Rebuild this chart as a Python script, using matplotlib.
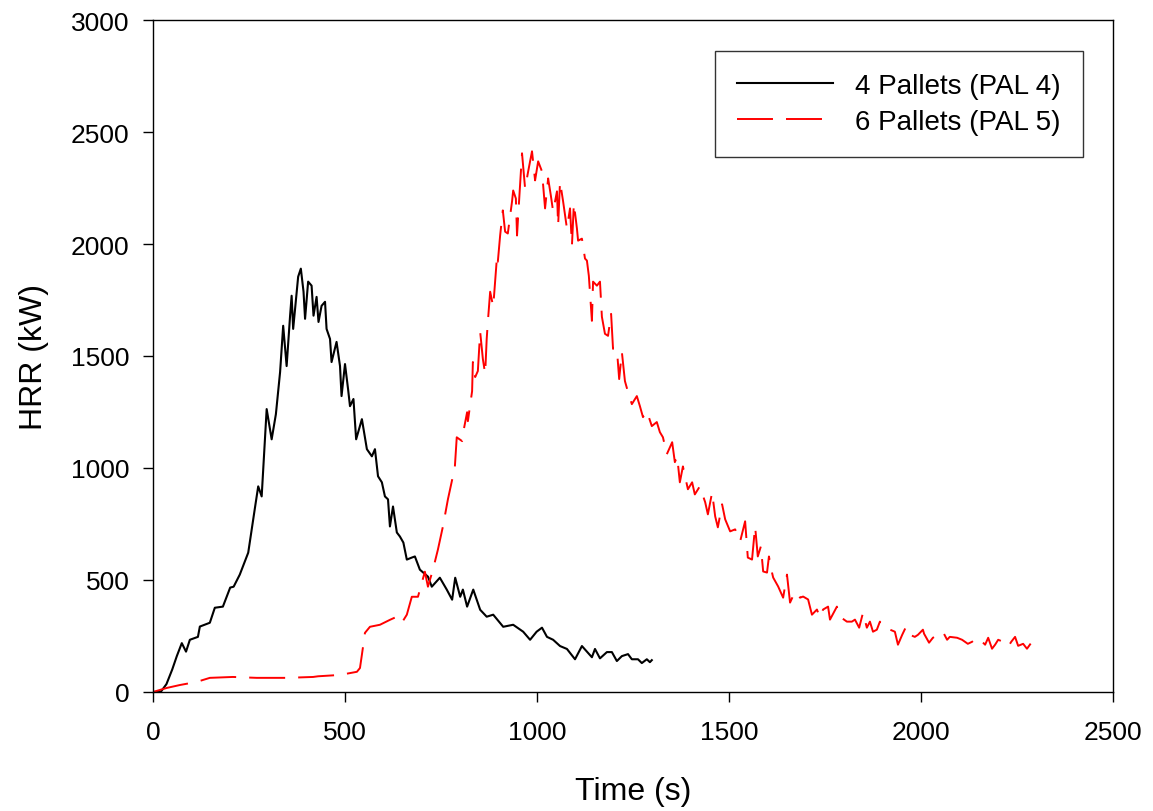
import matplotlib
matplotlib.use('Agg')
import matplotlib.pyplot as plt

plt.rcParams['font.family'] = ['Liberation Sans', 'DejaVu Sans']

# 4 pallets (PAL 4)
t_pal4 = [0, 20, 35, 50, 62, 75, 86, 96, 117, 122, 148, 161, 182, 201, 210, 226, 248, 257, 266, 274,
          283, 296, 309, 320, 331, 339, 348, 357, 361, 365, 378, 385, 392, 396, 404, 413, 418, 426, 431, 439,
          448, 452, 461, 465, 478, 487, 491, 500, 508, 513, 522, 529, 544, 557, 570, 578, 586, 596, 604, 612,
          617, 625, 635, 643, 652, 661, 674, 682, 695, 716, 726, 747, 765, 779, 787, 800, 807, 818, 834, 852,
          869, 886, 912, 938, 964, 982, 999, 1013, 1026, 1042, 1060, 1078, 1099, 1117, 1143, 1151, 1164, 1182,
          1195, 1208, 1221, 1237, 1247, 1263, 1273, 1286, 1294, 1299]
hrr_pal4 = [0, 0, 35, 100, 160, 218, 180, 233, 246, 292, 309, 376, 381, 466, 470, 524, 622, 725, 828, 918,
            873, 1263, 1128, 1240, 1429, 1635, 1455, 1680, 1769, 1621, 1854, 1890, 1787, 1666, 1832, 1814, 1680, 1764, 1652, 1724,
            1742, 1621, 1576, 1473, 1563, 1455, 1321, 1464, 1352, 1276, 1308, 1128, 1218, 1084, 1052, 1084, 963, 936, 873, 860,
            739, 828, 712, 694, 667, 591, 600, 605, 546, 515, 470, 510, 457, 412, 510, 425, 457, 381, 457, 367,
            336, 345, 291, 300, 269, 233, 269, 287, 246, 233, 205, 192, 146, 205, 155, 192, 150, 178,
            178, 138, 160, 169, 146, 146, 129, 146, 133, 142]

# 6 pallets (PAL 5)
t_pal5 = [0, 36, 70, 114, 148, 208, 270, 348, 417, 430, 487, 531, 539, 544, 552, 565, 591, 617, 635, 648,
          661, 674, 690, 700, 708, 716, 729, 742, 755, 768, 786, 791, 805, 807, 818, 820, 831, 833, 839, 846,
          852, 859, 865, 869, 872, 878, 886, 891, 896, 898, 904, 911, 917, 924, 935, 938, 945, 948, 951, 961,
          969, 977, 987, 995, 1003, 1013, 1021, 1029, 1036, 1042, 1052, 1055, 1060, 1068, 1078, 1086, 1091, 1096, 1104, 1107,
          1117, 1125, 1130, 1135, 1143, 1146, 1156, 1164, 1169, 1177, 1185, 1193, 1198, 1208, 1214, 1221, 1229, 1237, 1247, 1260,
          1268, 1276, 1286, 1299, 1312, 1320, 1328, 1338, 1352, 1359, 1365, 1372, 1380, 1393, 1404, 1411, 1424, 1438, 1445, 1456,
          1464, 1471, 1482, 1490, 1503, 1516, 1529, 1542, 1549, 1560, 1568, 1575, 1583, 1589, 1599, 1604, 1612, 1615, 1628, 1641,
          1651, 1659, 1672, 1685, 1693, 1706, 1716, 1729, 1737, 1745, 1758, 1763, 1781, 1789, 1807, 1820, 1828, 1839, 1849, 1859,
          1867, 1875, 1885, 1893, 1901, 1914, 1932, 1940, 1951, 1961, 1971, 1984, 1992, 2005, 2008, 2021, 2031, 2044, 2057, 2068,
          2075, 2094, 2107, 2122, 2133, 2146, 2154, 2167, 2175, 2185, 2193, 2201, 2214, 2227, 2235, 2245, 2253, 2266, 2276, 2289, 2300]
hrr_pal5 = [0, 18, 31, 45, 63, 67, 63, 63, 67, 70, 76, 90, 107, 166, 264, 291, 300, 322, 336, 309,
            345, 425, 425, 488, 537, 470, 546, 636, 739, 860, 1003, 1137, 1120, 1151, 1249, 1209, 1343, 1473, 1406, 1433,
            1608, 1487, 1420, 1576, 1652, 1787, 1720, 1836, 1948, 1921, 2038, 2150, 2055, 2047, 2190, 2239, 2203, 2038, 2127, 2405,
            2248, 2324, 2414, 2284, 2369, 2324, 2159, 2293, 2217, 2145, 2235, 2082, 2279, 2190, 2069, 2159, 1993, 2181, 2069, 2015,
            2024, 1935, 1926, 1858, 1657, 1832, 1814, 1832, 1675, 1599, 1590, 1688, 1532, 1532, 1397, 1518, 1388, 1339, 1285, 1321,
            1276, 1227, 1254, 1187, 1205, 1160, 1137, 1061, 1115, 1026, 1052, 936, 1007, 905, 936, 882, 918, 847, 793, 891,
            784, 735, 838, 771, 717, 726, 672, 762, 600, 591, 739, 605, 650, 538, 533, 605, 533, 511, 471, 421,
            524, 399, 448, 421, 426, 413, 345, 368, 332, 368, 381, 323, 381, 336, 314, 314, 323, 287, 354, 287,
            314, 269, 278, 314, 291, 282, 269, 211, 255, 291, 255, 246, 255, 278, 260, 220, 242, 255, 269, 233,
            246, 242, 233, 215, 224, 242, 233, 211, 242, 193, 211, 233, 224, 202, 224, 246, 206, 215, 193, 224, 211]

fig = plt.figure(figsize=(11.53, 8.12), dpi=100)
ax = fig.add_axes([0.1327, 0.1466, 0.8326, 0.8275])

ax.plot(t_pal4, hrr_pal4, color='black', linewidth=1.5, label='4 Pallets (PAL 4)')
ax.plot(t_pal5, hrr_pal5, color='red', linewidth=1.4, dashes=(18.5, 6.7), label='6 Pallets (PAL 5)')

ax.set_xlim(0, 2500)
ax.set_ylim(0, 3000)
ax.set_xticks([0, 500, 1000, 1500, 2000, 2500])
ax.set_yticks([0, 500, 1000, 1500, 2000, 2500, 3000])
ax.tick_params(axis='both', direction='out', length=7, width=1, labelsize=19)
ax.tick_params(axis='x', pad=13)
ax.tick_params(axis='y', pad=10)
for s in ax.spines.values():
    s.set_linewidth(1.0)

ax.set_xlabel('Time (s)', fontsize=23, labelpad=23)
ax.set_ylabel('HRR (kW)', fontsize=23, labelpad=16)

leg = ax.legend(loc='upper right', bbox_to_anchor=(0.969, 0.954), borderaxespad=0,
                fontsize=20, frameon=True, fancybox=False, handlelength=3.45,
                handletextpad=0.8, labelspacing=0.35, borderpad=0.8)
leg.get_frame().set_edgecolor('black')
leg.get_frame().set_linewidth(1.0)

plt.savefig('out.png', dpi=100)
